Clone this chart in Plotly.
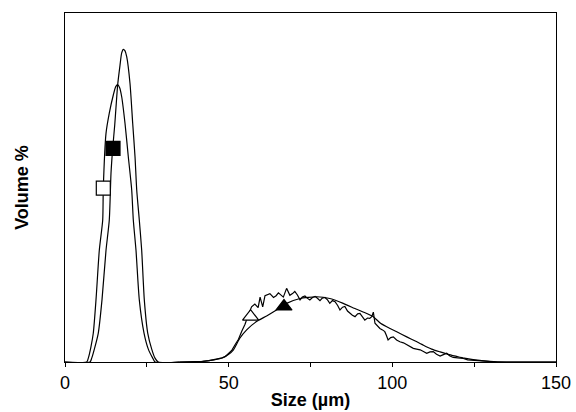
import plotly.graph_objects as go

# Narrow peak A (taller)
a_x = [0, 7.64, 8.16, 9.17, 10.17, 11.30, 12.53, 13.53, 14.05, 14.57, 15.2, 15.58, 16.1, 16.8, 17.3, 17.81, 18.3, 18.85, 19.86, 20.68, 21.39, 21.91, 22.70, 23.43, 24.23, 25.27, 26.49, 27.50, 28.5, 35]
a_y = [0, 0, 1.1, 4.4, 8.3, 17.8, 32, 40.7, 54, 61.2, 68, 73, 79.5, 85, 88.5, 89.6, 89.2, 87.5, 79.8, 68.4, 58.8, 49.3, 40.7, 32, 17.8, 8.3, 3.7, 1.1, 0, 0]

# Narrow peak B (shorter)
b_x = [0, 6.63, 7.12, 7.94, 8.65, 9.47, 10.48, 11.52, 11.70, 12.53, 13.53, 14.76, 15.5, 16.10, 16.7, 17.32, 18.33, 19.34, 20.38, 20.87, 21.69, 22.70, 24.14, 25.45, 26.8, 27.5, 35]
b_y = [0, 0, 1.1, 4.4, 8.3, 17.8, 32, 40.7, 49.8, 65.5, 71.3, 76.5, 78.9, 79.5, 78.6, 76, 68.4, 58.8, 49.3, 40.7, 32, 17.8, 8.3, 3.7, 1.1, 0, 0]

# Broad smooth distribution C
c_x = [35, 42.3, 45.5, 48.4, 50.0, 51.4, 53.4, 55.5, 58.5, 61.6, 64.6, 67.7, 71.8, 76.9, 80.9, 85.0, 89.1, 91.5, 94.2, 96.5, 99.3, 101.5, 104.4, 107, 109.5, 112, 114.6, 117, 119.7, 122, 124.7, 129.8, 134.8, 150]
c_y = [0, 0.2, 0.6, 1.3, 2.2, 3.4, 6.8, 9.2, 11.6, 13.2, 14.9, 16.8, 18.2, 18.7, 18.2, 16.8, 15.1, 14.2, 13.0, 11.0, 9.6, 8.6, 7.2, 6.0, 4.8, 3.7, 2.9, 2.2, 1.6, 1.1, 0.7, 0.2, 0, 0]

# Broad noisy distribution D
d_x = [35, 40, 42, 44, 46, 48, 49, 50, 51, 52, 53, 54, 55, 56, 57, 58, 59, 59.6, 60.4, 61.1, 62, 62.6, 63.7, 64.5, 65.2, 66, 66.7, 67.7, 68.7, 69.5, 70.2, 71, 71.8, 72.5, 73.3, 74, 74.8, 75.6, 76.4, 77.2, 77.9, 78.6, 79.4, 80.2, 80.9, 81.7, 82.5, 83.3, 84.0, 84.8, 85.5, 86.3, 87.0, 87.8, 88.6, 89.4, 90.1, 90.9, 91.6, 92.4, 93.1, 93.7, 94.2, 94.7, 95.5, 96.2, 97.0, 97.7, 98.2, 98.7, 99.5, 100.3, 101.3, 102.3, 103.4, 104.4, 105.4, 106.4, 107.4, 108.5, 109.5, 110.5, 111.5, 112.5, 113.5, 114.6, 115.6, 116.6, 117.6, 118.6, 120, 121.7, 123, 124.7, 126, 127.8, 130, 132, 150]
d_y = [0, 0, 0.2, 0.4, 0.7, 1.2, 1.6, 2.5, 3.4, 5.0, 6.5, 8.8, 10.8, 13.5, 15.8, 16.6, 15.6, 18.6, 15.8, 19.0, 19.3, 19.6, 18.5, 19.0, 19.8, 19.2, 18.6, 21.1, 19.1, 19.6, 20.2, 19.2, 17.8, 18.6, 18.9, 18.3, 17.8, 18.5, 18.8, 18.2, 17.6, 18.3, 18.5, 17.8, 16.8, 17.6, 17.3, 16.2, 14.9, 15.7, 15.9, 14.6, 13.9, 13.4, 13.0, 13.8, 13.9, 12.7, 12.0, 12.6, 12.5, 13.0, 14.3, 11.1, 10.4, 9.6, 9.2, 8.7, 7.6, 6.3, 7.0, 7.2, 6.3, 5.8, 5.5, 4.9, 4.3, 3.9, 3.7, 3.5, 3.0, 2.5, 2.9, 3.0, 2.2, 1.7, 2.1, 2.5, 1.7, 1.3, 1.2, 1.0, 0.6, 0.5, 0.4, 0.3, 0.1, 0, 0]

# Marker positions
sq_open = (11.70, 49.8)
sq_fill = (14.67, 61.2)
tri_open = (56.7, 13.0)
tri_fill = (66.9, 15.9)

x_ticks = [0, 50, 100, 150]

line = dict(color="black", width=1.2)
fig = go.Figure()
fig.add_trace(go.Scatter(x=a_x, y=a_y, mode="lines", line=dict(**line, shape="spline", smoothing=0.6)))
fig.add_trace(go.Scatter(x=b_x, y=b_y, mode="lines", line=dict(**line, shape="spline", smoothing=0.6)))
fig.add_trace(go.Scatter(x=c_x, y=c_y, mode="lines", line=dict(**line, shape="spline", smoothing=0.5)))
fig.add_trace(go.Scatter(x=d_x, y=d_y, mode="lines", line=dict(**line)))

mk_line = dict(color="black", width=1.2)
fig.add_trace(go.Scatter(x=[sq_open[0]], y=[sq_open[1]], mode="markers",
                         marker=dict(symbol="square", size=14, color="white", line=mk_line)))
fig.add_trace(go.Scatter(x=[sq_fill[0]], y=[sq_fill[1]], mode="markers",
                         marker=dict(symbol="square", size=14, color="black", line=mk_line)))
fig.add_trace(go.Scatter(x=[tri_open[0]], y=[tri_open[1]], mode="markers",
                         marker=dict(symbol="triangle-up", size=14, color="white", line=mk_line)))
fig.add_trace(go.Scatter(x=[tri_fill[0]], y=[tri_fill[1]], mode="markers",
                         marker=dict(symbol="triangle-up", size=14, color="black", line=mk_line)))

fig.update_layout(
    width=576, height=412,
    margin=dict(l=65, r=20, t=13, b=50),
    paper_bgcolor="white", plot_bgcolor="white",
    showlegend=False,
    font=dict(family="Liberation Sans, Arial, sans-serif", color="black"),
    xaxis=dict(
        range=[0, 150], tickvals=x_ticks, ticktext=[str(v) for v in x_ticks],
        ticks="outside", ticklen=4, tickwidth=1, tickcolor="black",
        minor=dict(tickvals=[25, 75, 125], ticks="outside", ticklen=4, tickcolor="black"),
        showline=True, linecolor="black", linewidth=1, mirror=True,
        showgrid=False, zeroline=False,
        tickfont=dict(size=18),
        title=dict(text="<b>Size (µm)</b>", font=dict(size=18), standoff=1),
        automargin=False,
    ),
    yaxis=dict(
        range=[0, 100], showticklabels=False, ticks="",
        showline=True, linecolor="black", linewidth=1, mirror=True,
        showgrid=False, zeroline=False,
        title=dict(text="<b>Volume %</b>", font=dict(size=18), standoff=30),
        automargin=False,
    ),
)

fig.write_html("out.html")
